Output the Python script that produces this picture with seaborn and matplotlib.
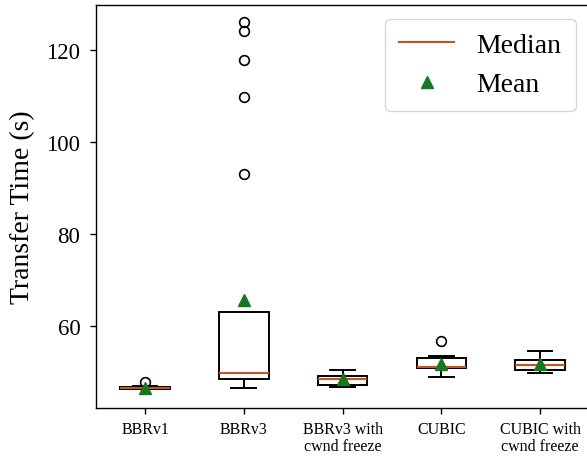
import numpy as np
import pandas as pd
import matplotlib
matplotlib.use("Agg")
import matplotlib.pyplot as plt
import seaborn as sns
from matplotlib.lines import Line2D

categories = ["BBRv1", "BBRv3", "BBRv3 with\ncwnd freeze", "CUBIC", "CUBIC with\ncwnd freeze"]

bbrv1 = [46.38, 46.42, 46.44, 46.45, 46.46, 46.47, 46.48, 46.50, 46.52, 46.53,
         46.55, 46.56, 46.58, 46.62, 46.70, 46.78, 46.85, 46.92, 46.96, 46.97,
         46.98, 46.99, 47.00, 47.00, 47.85]
bbrv3 = [46.68, 47.30, 47.70, 48.00, 48.20, 48.40, 48.57, 48.80, 49.10, 49.30,
         49.50, 49.70, 49.87, 61.90, 62.50, 62.90, 63.00, 63.00, 63.04, 63.10,
         93.00, 109.70, 117.80, 124.10, 126.10]
bbrv3_freeze = [46.77, 46.90, 47.00, 47.05, 47.10, 47.15, 47.20, 47.50, 47.80, 48.00,
                48.20, 48.40, 48.63, 48.70, 48.80, 48.90, 49.00, 49.10, 49.22, 49.50,
                49.80, 50.00, 50.30, 50.50, 50.60]
cubic = [48.94, 49.60, 50.10, 50.40, 50.60, 50.80, 50.89, 50.95, 51.00, 51.05,
         51.10, 51.13, 51.17, 51.60, 52.20, 52.60, 52.90, 53.10, 53.19, 53.25,
         53.30, 53.40, 53.50, 53.56, 56.81]
cubic_freeze = [49.80, 50.00, 50.15, 50.30, 50.40, 50.45, 50.52, 50.70, 50.90, 51.10,
                51.30, 51.45, 51.54, 51.70, 51.90, 52.10, 52.30, 52.50, 52.69, 52.80,
                53.00, 53.30, 53.70, 54.20, 54.71]

series = [bbrv1, bbrv3, bbrv3_freeze, cubic, cubic_freeze]
df = pd.DataFrame({
    "variant": [c for c, s in zip(categories, series) for _ in s],
    "time": [v for s in series for v in s],
})

plt.rcParams["font.family"] = ["Liberation Serif", "DejaVu Serif"]

median_color = "#c8531f"
mean_color = "#17781f"

fig = plt.figure(figsize=(5.87, 4.6), dpi=100)
ax = fig.add_axes([0.1630, 0.1109, 0.8412, 0.8767])

sns.boxplot(
    data=df, x="variant", y="time", order=categories, ax=ax,
    width=0.5, color="white", linecolor="black", linewidth=1.4,
    showmeans=True,
    meanprops=dict(marker="^", markerfacecolor=mean_color, markeredgecolor=mean_color,
                   markersize=8.5),
    medianprops=dict(color=median_color, linewidth=1.5),
    flierprops=dict(marker="o", markerfacecolor="none", markeredgecolor="black",
                    markersize=7, markeredgewidth=1.2),
)

ax.set_xlim(-0.5, 4.5)
ax.set_ylim(42.3, 129.8)
ax.set_yticks([60, 80, 100, 120])
ax.set_xlabel("")
ax.set_ylabel("Transfer Time (s)", fontsize=20, labelpad=8)
ax.tick_params(axis="y", labelsize=16.5, length=4, width=1.0, pad=7)
ax.tick_params(axis="x", labelsize=11.5, length=4, width=1.0, pad=5.5)
for lab in ax.get_xticklabels():
    lab.set_linespacing(1.08)
for sp in ax.spines.values():
    sp.set_color("black")
    sp.set_linewidth(1.0)

handles = [
    Line2D([], [], color=median_color, lw=1.5, label="Median"),
    Line2D([], [], marker="^", color=mean_color, linestyle="None", markersize=8.5, label="Mean"),
]
ax.legend(handles=handles, loc="upper right", fontsize=20, handlelength=2.0,
          borderpad=0.5, handletextpad=0.8, borderaxespad=0.5)

fig.savefig("out.png", dpi=100)
